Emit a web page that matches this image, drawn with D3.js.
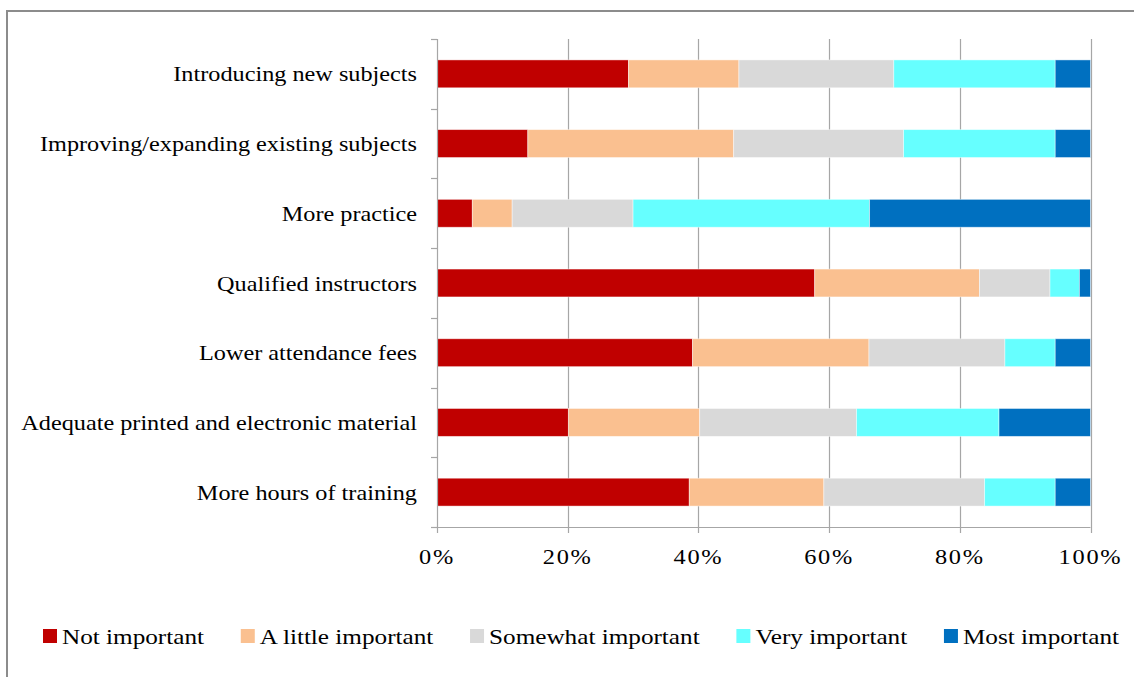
<!DOCTYPE html>
<html>
<head>
<meta charset="utf-8">
<script src="https://cdn.jsdelivr.net/npm/d3@7"></script>
<style>
  html, body { margin: 0; padding: 0; background: #fff; }
  svg { display: block; }
  text { font-family: "Liberation Serif", "Times New Roman", serif; fill: #000; }
</style>
</head>
<body>
<svg id="chart" width="1134" height="677"></svg>
<script>
// Survey items, top to bottom
const categories = [
  "Introducing new subjects",
  "Improving/expanding existing subjects",
  "More practice",
  "Qualified instructors",
  "Lower attendance fees",
  "Adequate printed and electronic material",
  "More hours of training"
];

// Response levels (stack order, left to right)
const seriesNames = ["Not important", "A little important", "Somewhat important", "Very important", "Most important"];
const seriesColors = ["#C00000", "#FAC090", "#D9D9D9", "#66FFFF", "#0070C0"];

// Share of responses (%) per item, one array per level
const notImportant      = [29.3, 13.9,  5.4, 57.8, 39.1, 20.1, 38.6];
const aLittleImportant  = [16.9, 31.5,  6.1, 25.2, 27.0, 20.1, 20.6];
const somewhatImportant = [23.7, 26.0, 18.5, 10.8, 20.8, 24.0, 24.6];
const veryImportant     = [24.7, 23.2, 36.2,  4.5,  7.7, 21.8, 10.8];
const mostImportant     = [ 5.4,  5.4, 33.8,  1.7,  5.4, 14.0,  5.4];

const xTicks = [0, 0.2, 0.4, 0.6, 0.8, 1.0];

const seriesValues = [notImportant, aLittleImportant, somewhatImportant, veryImportant, mostImportant];

// Rows normalised to 100%
const rows = categories.map((c, i) => {
  const row = { category: c };
  const total = d3.sum(seriesValues, s => s[i]);
  seriesNames.forEach((n, k) => { row[n] = seriesValues[k][i] / total; });
  return row;
});

const stacked = d3.stack().keys(seriesNames)(rows);

const svg = d3.select("#chart");

// outer chart frame
svg.append("rect")
  .attr("x", 7).attr("y", 11)
  .attr("width", 1140).attr("height", 690)
  .attr("fill", "none")
  .attr("stroke", "#8c8c8c")
  .attr("stroke-width", 2);

const plot = { left: 437, right: 1090.5, top: 39, bottom: 527 };

const x = d3.scaleLinear().domain([0, 1]).range([plot.left, plot.right]);
const y = d3.scaleBand()
  .domain(categories)
  .range([plot.top, plot.bottom])
  .paddingInner(0.6)
  .paddingOuter(0.3);

const gridColor = "#a6a6a6";

// vertical gridlines
svg.append("g")
  .selectAll("line")
  .data(xTicks.slice(1))
  .join("line")
  .attr("x1", d => Math.round(x(d)) + 0.5)
  .attr("x2", d => Math.round(x(d)) + 0.5)
  .attr("y1", plot.top)
  .attr("y2", plot.bottom)
  .attr("stroke", gridColor)
  .attr("stroke-width", 1.2);

// stacked bars
svg.append("g")
  .selectAll("g")
  .data(stacked)
  .join("g")
  .attr("fill", (d, i) => seriesColors[i])
  .selectAll("rect")
  .data(d => d)
  .join("rect")
  .attr("x", d => x(d[0]))
  .attr("y", d => y(d.data.category))
  .attr("width", d => x(d[1]) - x(d[0]))
  .attr("height", y.bandwidth())
  .attr("stroke", "#ffffff")
  .attr("stroke-opacity", 0.55)
  .attr("stroke-width", 0.8);

// category axis: line + ticks at band boundaries
const boundaries = d3.range(categories.length + 1).map(i => plot.top + i * y.step());
const yAxis = svg.append("g");
yAxis.append("line")
  .attr("x1", plot.left + 0.5).attr("x2", plot.left + 0.5)
  .attr("y1", plot.top).attr("y2", plot.bottom)
  .attr("stroke", gridColor).attr("stroke-width", 1.2);
yAxis.selectAll("line.tick")
  .data(boundaries)
  .join("line")
  .attr("class", "tick")
  .attr("x1", plot.left - 6).attr("x2", plot.left)
  .attr("y1", d => Math.round(d) + 0.5)
  .attr("y2", d => Math.round(d) + 0.5)
  .attr("stroke", gridColor).attr("stroke-width", 1.2);

yAxis.selectAll("text")
  .data(categories)
  .join("text")
  .attr("transform", d => `translate(417, ${y(d) + y.bandwidth() / 2 + 7.5}) scale(1.155, 1)`)
  .attr("text-anchor", "end")
  .style("font-size", "21px")
  .text(d => d);

// value axis at the bottom
const xAxis = svg.append("g");
xAxis.append("line")
  .attr("x1", plot.left).attr("x2", plot.right)
  .attr("y1", plot.bottom + 0.5).attr("y2", plot.bottom + 0.5)
  .attr("stroke", gridColor).attr("stroke-width", 1.2);
xAxis.selectAll("line.tick")
  .data(xTicks)
  .join("line")
  .attr("class", "tick")
  .attr("x1", d => Math.round(x(d)) + 0.5)
  .attr("x2", d => Math.round(x(d)) + 0.5)
  .attr("y1", plot.bottom).attr("y2", plot.bottom + 6)
  .attr("stroke", gridColor).attr("stroke-width", 1.2);
xAxis.selectAll("text")
  .data(xTicks)
  .join("text")
  .attr("transform", d => `translate(${x(d)}, ${plot.bottom + 37}) scale(1.16, 1)`)
  .attr("text-anchor", "middle")
  .style("font-size", "21px")
  .style("letter-spacing", "1.5px")
  .text(d3.format(".0%"));

// legend along the bottom
const legend = svg.append("g");
const legendLeft = 43, legendRight = 1119, legendY = 636, sw = 14, textGap = 5, legendScale = 1.2;
const items = legend.selectAll("g")
  .data(seriesNames)
  .join("g");
items.append("rect")
  .attr("width", sw).attr("height", sw)
  .attr("y", -sw / 2)
  .attr("fill", (d, i) => seriesColors[i]);
items.append("text")
  .attr("transform", `translate(${sw + textGap}, 8) scale(${legendScale}, 1)`)
  .style("font-size", "21px")
  .text(d => d);

const widths = items.nodes().map(n => sw + textGap + n.querySelector("text").getComputedTextLength() * legendScale);
const spacing = (legendRight - legendLeft - d3.sum(widths)) / (seriesNames.length - 1);
let cx = legendLeft;
items.each(function (d, i) {
  d3.select(this).attr("transform", `translate(${cx}, ${legendY})`);
  cx += widths[i] + spacing;
});
</script>
</body>
</html>
